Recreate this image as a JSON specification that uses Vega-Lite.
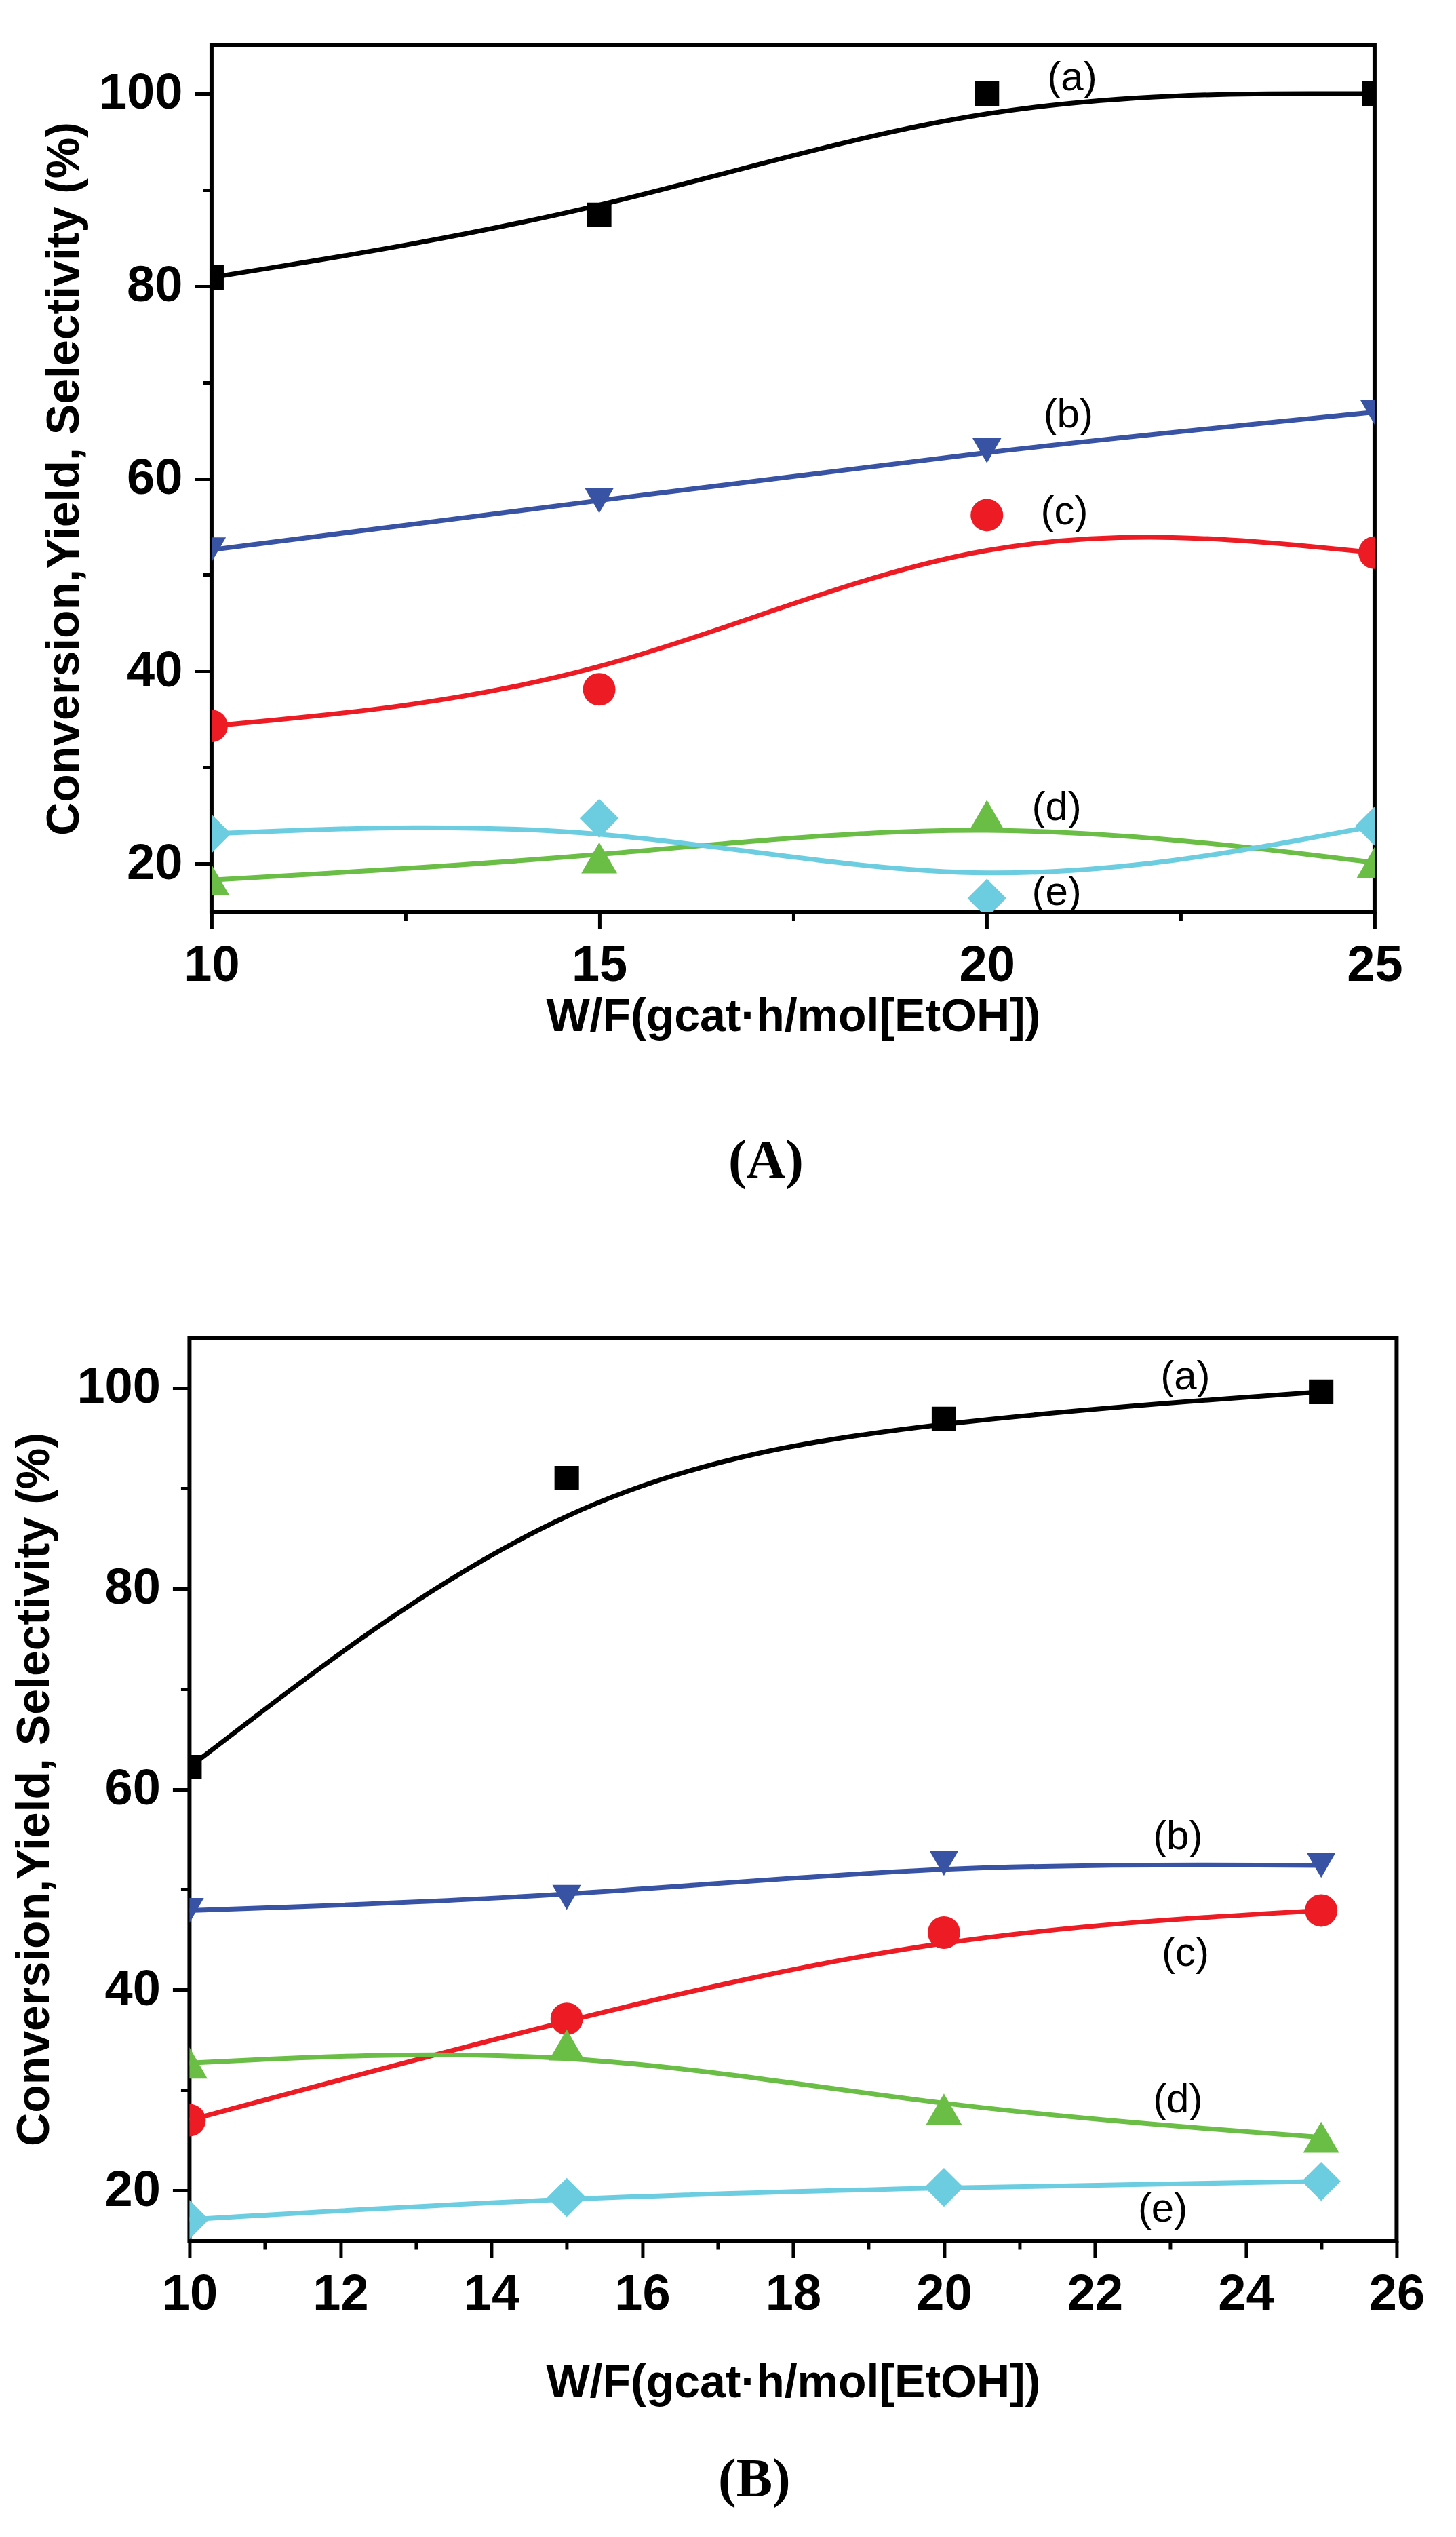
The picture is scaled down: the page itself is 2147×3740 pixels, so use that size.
{
  "$schema": "https://vega.github.io/schema/vega-lite/v6.json",
  "background": "white",
  "padding": {"left": 14, "top": 64, "right": 10, "bottom": 10},
  "spacing": 214,
  "center": true,
  "config": {
    "view": {"stroke": "black", "strokeWidth": 6},
    "axis": {
      "grid": false,
      "domain": false,
      "labelFont": "Liberation Sans",
      "labelFontWeight": "bold",
      "labelFontSize": 74,
      "labelColor": "black",
      "labelFlush": false,
      "labelOverlap": false,
      "labelBound": false,
      "labelPadding": 18,
      "tickColor": "black",
      "tickWidth": 5,
      "tickSize": 25,
      "titleFont": "Liberation Sans",
      "titleFontWeight": "bold",
      "titleFontSize": 68,
      "titleColor": "black"
    },
    "title": {"font": "Liberation Serif", "fontSize": 80, "fontWeight": "bold", "color": "black"}
  },
  "datasets": {
    "pts": [
      {"p": "A", "s": "a", "x": 10, "y": 80.9},
      {"p": "A", "s": "a", "x": 15, "y": 87.4},
      {"p": "A", "s": "a", "x": 20, "y": 100},
      {"p": "A", "s": "a", "x": 25, "y": 100},
      {"p": "A", "s": "b", "x": 10, "y": 52.6},
      {"p": "A", "s": "b", "x": 15, "y": 57.7},
      {"p": "A", "s": "b", "x": 20, "y": 62.9},
      {"p": "A", "s": "b", "x": 25, "y": 66.9},
      {"p": "A", "s": "c", "x": 10, "y": 34.3},
      {"p": "A", "s": "c", "x": 15, "y": 38.1},
      {"p": "A", "s": "c", "x": 20, "y": 56.2},
      {"p": "A", "s": "c", "x": 25, "y": 52.3},
      {"p": "A", "s": "d", "x": 10, "y": 18.3},
      {"p": "A", "s": "d", "x": 15, "y": 20.6},
      {"p": "A", "s": "d", "x": 20, "y": 25.0},
      {"p": "A", "s": "d", "x": 25, "y": 20.1},
      {"p": "A", "s": "e", "x": 10, "y": 23.1},
      {"p": "A", "s": "e", "x": 15, "y": 24.7},
      {"p": "A", "s": "e", "x": 20, "y": 16.4},
      {"p": "A", "s": "e", "x": 25, "y": 23.9},
      {"p": "B", "s": "a", "x": 10, "y": 62.2},
      {"p": "B", "s": "a", "x": 15, "y": 91.0},
      {"p": "B", "s": "a", "x": 20, "y": 96.9},
      {"p": "B", "s": "a", "x": 25, "y": 99.6},
      {"p": "B", "s": "b", "x": 10, "y": 47.9},
      {"p": "B", "s": "b", "x": 15, "y": 49.2},
      {"p": "B", "s": "b", "x": 20, "y": 52.6},
      {"p": "B", "s": "b", "x": 25, "y": 52.4},
      {"p": "B", "s": "c", "x": 10, "y": 27.0},
      {"p": "B", "s": "c", "x": 15, "y": 37.1},
      {"p": "B", "s": "c", "x": 20, "y": 45.7},
      {"p": "B", "s": "c", "x": 25, "y": 47.9},
      {"p": "B", "s": "d", "x": 10, "y": 32.7},
      {"p": "B", "s": "d", "x": 15, "y": 34.5},
      {"p": "B", "s": "d", "x": 20, "y": 28.1},
      {"p": "B", "s": "d", "x": 25, "y": 25.3},
      {"p": "B", "s": "e", "x": 10, "y": 17.1},
      {"p": "B", "s": "e", "x": 15, "y": 19.3},
      {"p": "B", "s": "e", "x": 20, "y": 20.3},
      {"p": "B", "s": "e", "x": 25, "y": 20.9}
    ],
    "labels": [
      {"p": "A", "t": "(a)", "x": 21.1, "y": 101.6},
      {"p": "A", "t": "(b)", "x": 21.05, "y": 66.6},
      {"p": "A", "t": "(c)", "x": 21.0, "y": 56.5},
      {"p": "A", "t": "(d)", "x": 20.9, "y": 25.8},
      {"p": "A", "t": "(e)", "x": 20.9, "y": 17.0},
      {"p": "B", "t": "(a)", "x": 23.2, "y": 101.1},
      {"p": "B", "t": "(b)", "x": 23.1, "y": 55.2},
      {"p": "B", "t": "(c)", "x": 23.2, "y": 43.6},
      {"p": "B", "t": "(d)", "x": 23.1, "y": 29.0},
      {"p": "B", "t": "(e)", "x": 22.9, "y": 18.1}
    ]
  },
  "vconcat": [
    {
      "width": 1715,
      "height": 1277,
      "title": {"text": "(A)", "orient": "bottom", "dx": -40, "offset": 140},
      "resolve": {"axis": {"x": "independent", "y": "independent"}},
      "layer": [
        {
          "data": {"name": "pts"},
          "transform": [{"filter": "datum.p === 'A'"}],
          "mark": {"type": "line", "interpolate": "basis", "strokeWidth": 7, "clip": true},
          "encoding": {
            "x": {"field": "x", "type": "quantitative", "scale": {"domain": [10, 25], "nice": false, "zero": false},
              "axis": {"values": [10, 15, 20, 25], "title": "W/F(gcat·h/mol[EtOH])", "titlePadding": 5}},
            "y": {"field": "y", "type": "quantitative", "scale": {"domain": [15, 105], "nice": false, "zero": false},
              "axis": {"values": [20, 40, 60, 80, 100], "title": "Conversion,Yield, Selectivity (%)", "titlePadding": 16}},
            "color": {"field": "s", "type": "nominal", "legend": null,
              "scale": {"domain": ["a", "b", "c", "d", "e"], "range": ["#000000", "#3953a4", "#ed1c24", "#6abd45", "#6dcde0"]}}
          }
        },
        {
          "data": {"name": "pts"},
          "transform": [{"filter": "datum.p === 'A'"}],
          "mark": {"type": "point", "filled": true, "opacity": 1, "clip": true},
          "encoding": {
            "x": {"field": "x", "type": "quantitative", "axis": null},
            "y": {"field": "y", "type": "quantitative", "axis": null},
            "color": {"field": "s", "type": "nominal", "legend": null},
            "shape": {"field": "s", "type": "nominal", "legend": null,
              "scale": {"domain": ["a", "b", "c", "d", "e"], "range": ["square", "triangle-down", "circle", "triangle-up", "diamond"]}},
            "size": {"field": "s", "type": "nominal", "legend": null,
              "scale": {"domain": ["a", "b", "c", "d", "e"], "range": [1300, 3300, 1450, 3300, 3300]}}
          }
        },
        {
          "data": {"name": "labels"},
          "transform": [{"filter": "datum.p === 'A'"}],
          "mark": {"type": "text", "font": "Liberation Sans", "fontSize": 60, "color": "black", "align": "center", "baseline": "middle"},
          "encoding": {
            "x": {"field": "x", "type": "quantitative",
              "axis": {"orient": "bottom", "values": [12.5, 17.5, 22.5], "labels": false, "tickSize": 13, "title": null}},
            "y": {"field": "y", "type": "quantitative",
              "axis": {"orient": "left", "values": [30, 50, 70, 90], "labels": false, "tickSize": 13, "title": null}},
            "text": {"field": "t"}
          }
        }
      ]
    },
    {
      "width": 1780,
      "height": 1331,
      "title": {"text": "(B)", "orient": "bottom", "dx": -57, "offset": 70},
      "resolve": {"axis": {"x": "independent", "y": "independent"}},
      "layer": [
        {
          "data": {"name": "pts"},
          "transform": [{"filter": "datum.p === 'B'"}],
          "mark": {"type": "line", "interpolate": "basis", "strokeWidth": 7, "clip": true},
          "encoding": {
            "x": {"field": "x", "type": "quantitative", "scale": {"domain": [10, 26], "nice": false, "zero": false},
              "axis": {"values": [10, 12, 14, 16, 18, 20, 22, 24, 26], "title": "W/F(gcat·h/mol[EtOH])", "titlePadding": 60}},
            "y": {"field": "y", "type": "quantitative", "scale": {"domain": [15, 105], "nice": false, "zero": false},
              "axis": {"values": [20, 40, 60, 80, 100], "title": "Conversion,Yield, Selectivity (%)", "titlePadding": 27}},
            "color": {"field": "s", "type": "nominal", "legend": null,
              "scale": {"domain": ["a", "b", "c", "d", "e"], "range": ["#000000", "#3953a4", "#ed1c24", "#6abd45", "#6dcde0"]}}
          }
        },
        {
          "data": {"name": "pts"},
          "transform": [{"filter": "datum.p === 'B'"}],
          "mark": {"type": "point", "filled": true, "opacity": 1, "clip": true},
          "encoding": {
            "x": {"field": "x", "type": "quantitative", "axis": null},
            "y": {"field": "y", "type": "quantitative", "axis": null},
            "color": {"field": "s", "type": "nominal", "legend": null},
            "shape": {"field": "s", "type": "nominal", "legend": null,
              "scale": {"domain": ["a", "b", "c", "d", "e"], "range": ["square", "triangle-down", "circle", "triangle-up", "diamond"]}},
            "size": {"field": "s", "type": "nominal", "legend": null,
              "scale": {"domain": ["a", "b", "c", "d", "e"], "range": [1300, 3300, 1450, 3300, 3300]}}
          }
        },
        {
          "data": {"name": "labels"},
          "transform": [{"filter": "datum.p === 'B'"}],
          "mark": {"type": "text", "font": "Liberation Sans", "fontSize": 60, "color": "black", "align": "center", "baseline": "middle"},
          "encoding": {
            "x": {"field": "x", "type": "quantitative",
              "axis": {"orient": "bottom", "values": [11, 13, 15, 17, 19, 21, 23, 25], "labels": false, "tickSize": 13, "title": null}},
            "y": {"field": "y", "type": "quantitative",
              "axis": {"orient": "left", "values": [30, 50, 70, 90], "labels": false, "tickSize": 13, "title": null}},
            "text": {"field": "t"}
          }
        }
      ]
    }
  ]
}
